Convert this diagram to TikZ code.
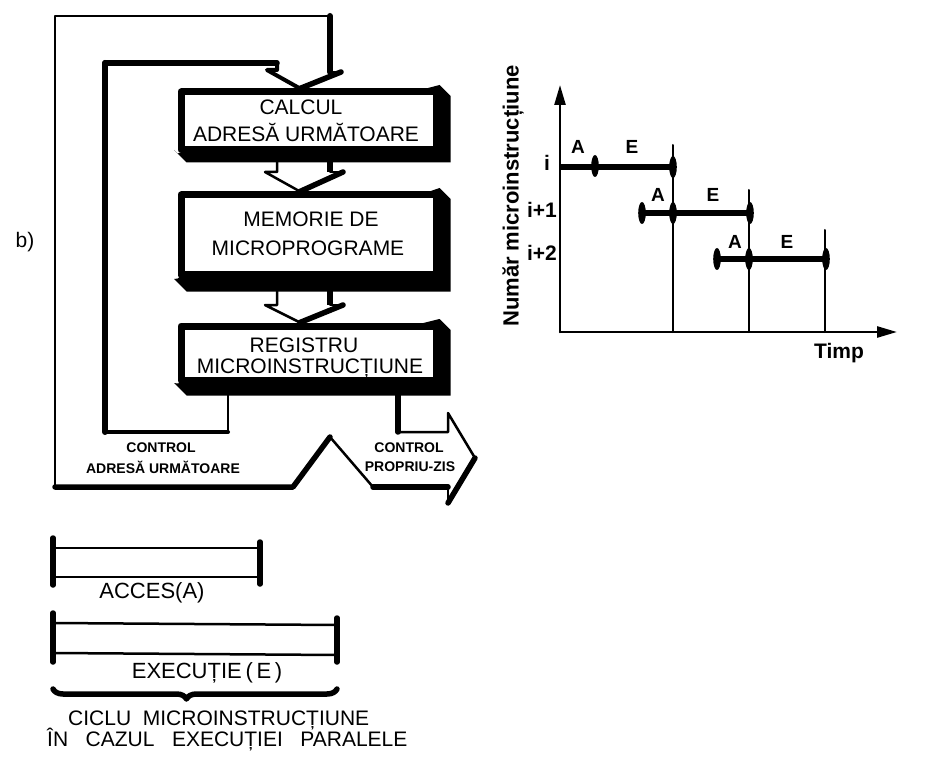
\documentclass[tikz,border=0pt]{standalone}
\usepackage{fontspec}
\setmainfont{Liberation Sans}
\usetikzlibrary{calc,decorations.pathreplacing,arrows.meta}
\pgfdeclarelayer{bg}
\pgfsetlayers{bg,main}
\newcommand\boxshadow[2]{%
  \begin{pgfonlayer}{bg}
  \fill ($(#1.north east)+(0,-3.5)$) -- ++(11,11) -- ($(#1.south east)+(11,#2)$)
    -- ($(#1.south west)+(9,#2)$) -- ($(#1.south west)+(-3.5,#2-12.5)$) -- (#1.south west) -- cycle;
  \end{pgfonlayer}}
\begin{document}
\begin{tikzpicture}[x=1pt,y=-1pt,line join=round,line cap=round]
\useasboundingbox (0,0) rectangle (932,770);
\tikzset{
  blk/.style={rectangle,draw,line width=7pt,fill=white,inner sep=0pt,minimum width=255},
  btxt/.style={font=\fontsize{21}{26}\selectfont,inner sep=0pt,anchor=base},
  thinl/.style={line width=2.5pt},
  midl/.style={line width=4pt},
  thickl/.style={line width=5.5pt},
  small/.style={font=\bfseries\fontsize{14}{17}\selectfont,inner sep=0pt},
  lbl/.style={font=\fontsize{22}{26}\selectfont,inner sep=0pt},
  chart/.style={font=\bfseries\fontsize{19}{20}\selectfont,inner sep=0pt},
  rowl/.style={font=\bfseries\fontsize{21}{22}\selectfont,inner sep=0pt},
  bar/.style={line width=6pt,line cap=butt},
  ax/.style={line width=2.5pt,-{Triangle[length=20pt,width=11pt]}},
}
% ---------- boxes ----------
\node[blk,minimum height=58] (b1) at (308.5,121) {};
\node[blk,minimum height=80] (b2) at (308.5,235) {};
\node[blk,minimum height=54] (b3) at (308.5,353) {};
\boxshadow{b1}{9}
\boxshadow{b2}{13}
\boxshadow{b3}{12}
\node[btxt] (t1a) at (301,115) {CALCUL};
\node[btxt] (t1b) at (306,142) {ADRESĂ URMĂTOARE};
\node[btxt] (t2a) at (311,227) {MEMORIE DE};
\node[btxt] (t2b) at (308,255) {MICROPROGRAME};
\node[btxt] (t3a) at (304,352) {REGISTRU};
\node[btxt] (t3b) at (310,373) {MICROINSTRUCȚIUNE};
\node[font=\fontsize{21}{24}\selectfont,inner sep=0pt] (blab) at (25,242) {b)};
% ---------- hollow arrows between boxes ----------
\foreach \from/\to/\ys/\yb in {b1/b2/159/172, b2/b3/288/305}{
  \draw[thinl] (277,\ys) -- (277,\yb) -- (265,\yb) -- ($(\to.north)+(-8.5,0)$);
  \draw[thinl] (330,\ys) -- (330,\yb) -- (343,\yb);
  \draw[thickl] (343,\yb) -- ($(\to.north)+(-8.5,0)$);
  \draw[line width=6pt,line cap=butt] (330,\ys) -- (330,\yb);
}
% ---------- feedback band ----------
\coordinate (apex) at ($(b1.north)+(-8.5,0)$);
% outer edge
\draw[thinl] (55,487) -- (55,16) -- (330,16);
\draw[line width=6pt] (330,16) -- (330,72);
\draw[thinl] (330,72) -- (341,72);
\draw[thickl] (341,72) -- (apex);
% inner edge
\draw[thinl] (228,392) -- (228,432);
\draw[midl] (228,432) -- (105,432);
\draw[line width=6pt] (105,432) -- (105,63);
\draw[thickl] (105,63) -- (277,63);
\draw[midl] (277,63) -- (277,70) -- (267,70) -- (apex);
% bottom edge with notch and output arrow
\draw[thickl] (55,487) -- (293,487) -- (330,437);
\draw[thinl] (330,437) -- (373,487);
\draw[thickl] (373,487) -- (448,487);
\draw[thinl] (448,487) -- (448,503);
\draw[thickl] (448,503) -- (475,458);
\draw[thinl] (475,458) -- (448,413) -- (448,432) -- (398,432);
\draw[thickl] (398,432) -- (398,392);
\node[small] (c1a) at (161,448) {CONTROL};
\node[small] (c1b) at (163,467) {ADRESĂ URMĂTOARE};
\node[small] (c2a) at (409,448) {CONTROL};
\node[small] (c2b) at (410,467) {PROPRIU-ZIS};
% ---------- legend bars ----------
\draw[thickl] (53,538) -- (53,585);
\draw[thickl] (260,542) -- (260,584);
\draw[thinl] (53,548) -- (260,548);
\draw[thinl] (53,577) -- (260,577);
\node[lbl] (acc) at (152,593) {ACCES(A)};
\draw[thickl] (53,613) -- (53,662);
\draw[thickl] (337,618) -- (337,662);
\draw[thinl] (53,623) -- (337,625);
\draw[thinl] (53,653) -- (337,655);
\node[lbl] (exe) at (207,673) {EXECUȚIE\,(\,E\,)};
\draw[thickl,decorate,decoration={brace,amplitude=10pt,aspect=0.53}] (337,689) -- (53,689);
\node[font=\fontsize{21}{24}\selectfont,inner sep=0pt,anchor=west] (cic1) at (68,720) {CICLU\ \ MICROINSTRUCȚIUNE};
\node[font=\fontsize{21}{24}\selectfont,inner sep=0pt,anchor=west] (cic2) at (47,740) {ÎN\ \ \ CAZUL\ \ \ EXECUȚIEI\ \ \ PARALELE};
% ---------- timing chart ----------
\coordinate (O) at (560,332);
\draw[ax] (O) -- (560,85);
\draw[ax] (O) -- (897,332);
\node[font=\bfseries\fontsize{22}{24}\selectfont,inner sep=0pt,rotate=90] (ylab) at (513,196) {Număr microinstrucțiune};
\node[font=\bfseries\fontsize{21}{22}\selectfont,inner sep=0pt] (tlab) at (839,353) {Timp};
\node[rowl] (r0) at (547,163) {i};
\node[rowl] (r1) at (542,210) {i+1};
\node[rowl] (r2) at (542,253) {i+2};
\draw[line width=2pt] (673,145) -- (673,332);
\draw[line width=2pt] (749,190) -- (749,332);
\draw[line width=2pt] (825,230) -- (825,332);
\draw[bar] (560,167) -- (673,167);
\draw[bar] (642,213) -- (750,213);
\draw[bar] (717,259) -- (827,259);
\foreach \x/\y in {595/166,673/167,642/213,673/213,750/213,717/259,749/259,826/259}
  \fill (\x,\y) ellipse [x radius=3.8pt,y radius=11pt];
\node[chart] (a0) at (578,147) {A};
\node[chart] (e0) at (632,147) {E};
\node[chart] (a1) at (658,195) {A};
\node[chart] (e1) at (713,195) {E};
\node[chart] (a2) at (735,242) {A};
\node[chart] (e2) at (787,242) {E};
\end{tikzpicture}
\end{document}
